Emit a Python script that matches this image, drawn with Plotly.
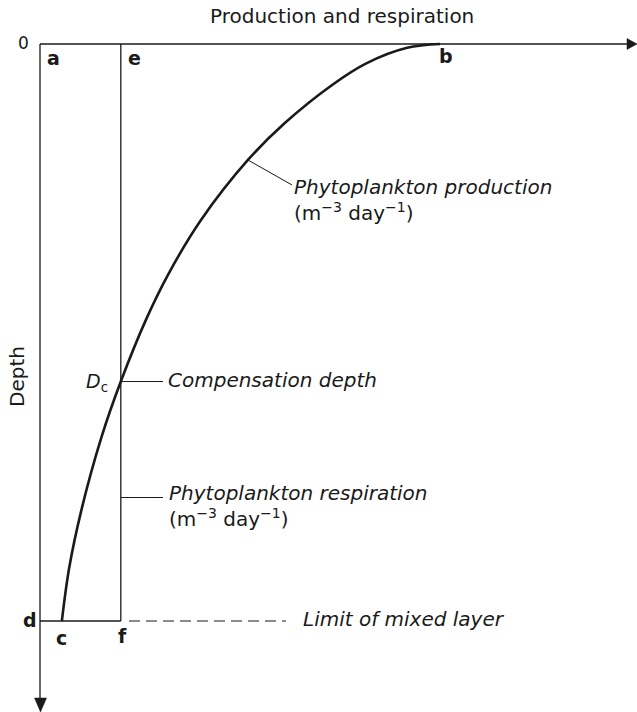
import plotly.graph_objects as go

# Production profile through the mixed layer (relative units):
# production 100 at the surface (b), depth 100 at the bottom of the mixed layer (d)
prod_depth = [0, 0.66, 3.4, 7.1, 13.7, 20.1, 30.5, 39.7, 47.6, 58.5, 68.1, 80.7, 90.9, 100]
prod_value = [100, 91.8, 81.5, 73.1, 61.3, 52.1, 40.4, 32.4, 26.8, 20.4, 15.6, 10.6, 7.5, 5.7]

respiration = 20.4          # constant respiration through the layer (e-f)
compensation_depth = 58.5   # D_c, where production equals respiration
mixed_layer_depth = 100     # d-c-f

# drawing scale: pixels per unit, and pixel position of the origin
PX_X, PX_Y = 4.01, 5.77
X0, Y0 = 39, 44
W, H = 637, 712


def X(px):
    return (px - X0) / PX_X


def Y(py):
    return (py - Y0) / PX_Y


INK = "#1a1a1a"
FONT = "DejaVu Sans"

fig = go.Figure()


def line(xs, ys, width=1.3, dash=None, color=INK):
    fig.add_trace(go.Scatter(x=xs, y=ys, mode="lines", hoverinfo="skip",
                             line=dict(color=color, width=width, dash=dash),
                             showlegend=False))


def poly(xs, ys):
    fig.add_trace(go.Scatter(x=xs, y=ys, mode="lines", fill="toself",
                             fillcolor=INK, line=dict(color=INK, width=0.5),
                             hoverinfo="skip", showlegend=False))


# axes with arrowheads
line([X(40), X(628)], [0, 0])
poly([X(W), X(627), X(627), X(W)], [0, Y(38.5), Y(49.5), 0])
line([X(40), X(40)], [0, Y(699)])
poly([X(40.5), X(34.5), X(46.5), X(40.5)], [Y(H), Y(698), Y(698), Y(H)])

# respiration line e-f and base of the mixed layer d-f
line([respiration, respiration], [0, mixed_layer_depth], width=1.3)
line([X(40), respiration], [mixed_layer_depth, mixed_layer_depth], width=1.3)
line([X(129), X(286)], [mixed_layer_depth, mixed_layer_depth], width=1.2, dash="11px,6px")

# production curve b-c
fig.add_trace(go.Scatter(x=prod_value, y=prod_depth, mode="lines",
                         line=dict(color=INK, width=2.6, shape="spline", smoothing=1.0),
                         hoverinfo="skip", showlegend=False))

# leader lines
i_lead = prod_depth.index(20.1)
line([prod_value[i_lead], X(292)], [prod_depth[i_lead], Y(185)], width=1.0)
line([respiration, X(163)], [compensation_depth, compensation_depth], width=1.0)
line([respiration, X(163)], [Y(497.5), Y(497.5)], width=1.0)

ann = []


def text(s, px, py, size=20, xanchor="left", italic=False, bold=False, **kw):
    ann.append(dict(x=px / W, y=1 - py / H, xref="paper", yref="paper", text=s,
                    showarrow=False, xanchor=xanchor, yanchor="middle", align="left",
                    font=dict(family=FONT, size=size, color=INK,
                              style="italic" if italic else "normal",
                              weight="bold" if bold else "normal"), **kw))


UNITS = "(m<sup>\u22123</sup> day<sup>\u22121</sup>)"

# corner letters
text("0", 24, 43, size=17, xanchor="center")
text("a", 53, 58, size=19, bold=True, xanchor="center")
text("e", 134, 58, size=19, bold=True, xanchor="center")
text("b", 446, 56, size=19, bold=True, xanchor="center")
text("d", 30, 620, size=19, bold=True, xanchor="center")
text("c", 61, 638, size=19, bold=True, xanchor="center")
text("f", 122.5, 636, size=19, bold=True, xanchor="center")
text("<i>D</i><sub>c</sub>", 110, 383, size=19, xanchor="right")

# curve and line labels
text("<i>Phytoplankton production</i><br>" + UNITS, 292, 200)
text("Compensation depth", 166, 380, italic=True)
text("<i>Phytoplankton respiration</i><br>" + UNITS, 167, 506)
text("Limit of mixed layer", 301, 619, italic=True)

# axis titles
text("Production and respiration", 342, 16, size=20, xanchor="center")
text("Depth", 17, 377, size=20, xanchor="center", textangle=-90)

fig.update_layout(
    width=W, height=H,
    margin=dict(l=0, r=0, t=0, b=0, pad=0),
    paper_bgcolor="white", plot_bgcolor="white",
    xaxis=dict(range=[X(0), X(W)], visible=False, fixedrange=True),
    yaxis=dict(range=[Y(H), Y(0)], visible=False, fixedrange=True),
    annotations=ann,
    showlegend=False,
)

fig.write_html("out.html")
